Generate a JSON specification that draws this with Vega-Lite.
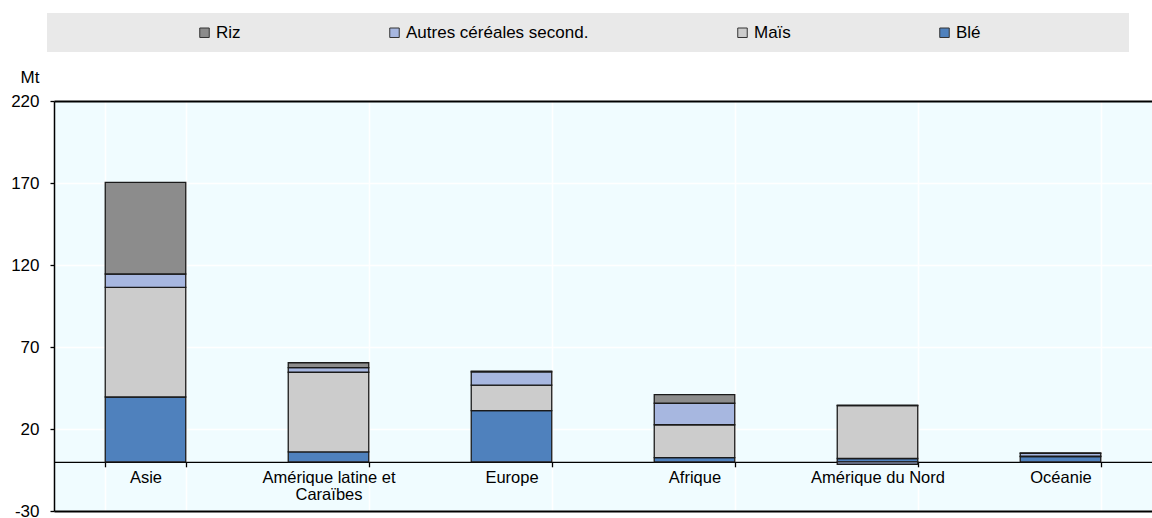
{
  "$schema": "https://vega.github.io/schema/vega-lite/v6.json",
  "autosize": "none",
  "width": 1098,
  "height": 410,
  "padding": {"left": 54, "top": 101, "right": 0, "bottom": 7},
  "background": "white",
  "config": {
    "font": "Liberation Sans, Arial, sans-serif",
    "view": {"fill": "#f0fcff", "stroke": null}
  },
  "data": {
    "values": [
      {"region": "Asie", "cereale": "Blé", "mt": 39.5},
      {"region": "Asie", "cereale": "Maïs", "mt": 66.9},
      {"region": "Asie", "cereale": "Autres céréales second.", "mt": 8.1},
      {"region": "Asie", "cereale": "Riz", "mt": 55.9},
      {"region": "Amérique latine et Caraïbes", "cereale": "Blé", "mt": 6.0},
      {"region": "Amérique latine et Caraïbes", "cereale": "Maïs", "mt": 48.6},
      {"region": "Amérique latine et Caraïbes", "cereale": "Autres céréales second.", "mt": 2.8},
      {"region": "Amérique latine et Caraïbes", "cereale": "Riz", "mt": 3.0},
      {"region": "Europe", "cereale": "Blé", "mt": 31.2},
      {"region": "Europe", "cereale": "Maïs", "mt": 15.6},
      {"region": "Europe", "cereale": "Autres céréales second.", "mt": 8.0},
      {"region": "Europe", "cereale": "Riz", "mt": 0.5},
      {"region": "Afrique", "cereale": "Blé", "mt": 2.5},
      {"region": "Afrique", "cereale": "Maïs", "mt": 20.1},
      {"region": "Afrique", "cereale": "Autres céréales second.", "mt": 13.1},
      {"region": "Afrique", "cereale": "Riz", "mt": 5.2},
      {"region": "Amérique du Nord", "cereale": "Blé", "mt": 2.0},
      {"region": "Amérique du Nord", "cereale": "Maïs", "mt": 32.2},
      {"region": "Amérique du Nord", "cereale": "Autres céréales second.", "mt": -1.5},
      {"region": "Amérique du Nord", "cereale": "Riz", "mt": 0.4},
      {"region": "Océanie", "cereale": "Blé", "mt": 3.1},
      {"region": "Océanie", "cereale": "Maïs", "mt": 0.4},
      {"region": "Océanie", "cereale": "Autres céréales second.", "mt": 1.6},
      {"region": "Océanie", "cereale": "Riz", "mt": 0.4}
    ]
  },
  "transform": [
    {"calculate": "indexof(['Blé', 'Maïs', 'Autres céréales second.', 'Riz'], datum.cereale)", "as": "rang"}
  ],
  "mark": {"type": "bar", "stroke": "#1a1a1a", "strokeWidth": 1.3},
  "encoding": {
    "x": {
      "field": "region",
      "type": "nominal",
      "sort": ["Asie", "Amérique latine et Caraïbes", "Europe", "Afrique", "Amérique du Nord", "Océanie"],
      "scale": {"paddingInner": 0.56, "paddingOuter": 0.28},
      "axis": {
        "title": null,
        "labelAngle": 0,
        "labelFontSize": 16.5,
        "labelColor": "#000",
        "labelPadding": 3,
        "labelExpr": "datum.label == 'Amérique latine et Caraïbes' ? ['Amérique latine et', 'Caraïbes'] : datum.label",
        "labelLineHeight": 17,
        "offset": -49.2,
        "domainColor": "#000",
        "domainWidth": 1.3,
        "tickBand": "extent",
        "tickColor": "#000",
        "tickSize": 5,
        "tickWidth": 1.3,
        "grid": true,
        "gridColor": "#ffffff",
        "gridWidth": 1.5
      }
    },
    "y": {
      "field": "mt",
      "type": "quantitative",
      "aggregate": "sum",
      "stack": "zero",
      "scale": {"domain": [-30, 220], "nice": false},
      "axis": {
        "title": "Mt",
        "titleAngle": 0,
        "titleAlign": "right",
        "titleBaseline": "middle",
        "titleX": -15,
        "titleY": -24,
        "titleFontSize": 17,
        "titleFontWeight": "normal",
        "titleColor": "#000",
        "values": [-30, 20, 70, 120, 170, 220],
        "labelExpr": "'' + datum.value",
        "labelFontSize": 17,
        "labelColor": "#000",
        "labelPadding": 11,
        "tickSize": 4,
        "tickColor": "#000",
        "tickWidth": 1.3,
        "domainColor": "#000",
        "domainWidth": 1.5,
        "grid": true,
        "gridColor": {"condition": {"test": "datum.value == 220 || datum.value == -30", "value": "#000"}, "value": "#ffffff"},
        "gridWidth": {"condition": {"test": "datum.value == 220 || datum.value == -30", "value": 2}, "value": 1.5}
      }
    },
    "order": {"field": "rang", "type": "quantitative", "sort": "ascending"},
    "color": {
      "field": "cereale",
      "type": "nominal",
      "scale": {
        "domain": ["Blé", "Maïs", "Autres céréales second.", "Riz"],
        "range": ["#4f81bd", "#cccccc", "#a7b7e0", "#8c8c8c"]
      },
      "legend": {
        "title": null,
        "orient": "none",
        "legendX": -7,
        "legendY": -88,
        "direction": "horizontal",
        "values": ["Riz", "Autres céréales second.", "Maïs", "Blé"],
        "labelExpr": "datum.label == 'Blé' ? 'Blé\u00a0\u00a0\u00a0\u00a0\u00a0\u00a0\u00a0\u00a0\u00a0\u00a0\u00a0\u00a0\u00a0\u00a0\u00a0\u00a0\u00a0\u00a0\u00a0\u00a0\u00a0\u00a0\u00a0\u00a0\u00a0\u00a0\u00a0\u00a0\u00a0\u200b' : datum.label",
        "labelLimit": 400,
        "fillColor": "#e9e9e9",
        "padding": 11,
        "symbolType": "square",
        "symbolSize": 90,
        "symbolStrokeColor": "#333",
        "symbolStrokeWidth": 1,
        "symbolOffset": 138,
        "labelFontSize": 17,
        "labelColor": "#000",
        "labelOffset": 3,
        "columnPadding": 7
      }
    }
  }
}
